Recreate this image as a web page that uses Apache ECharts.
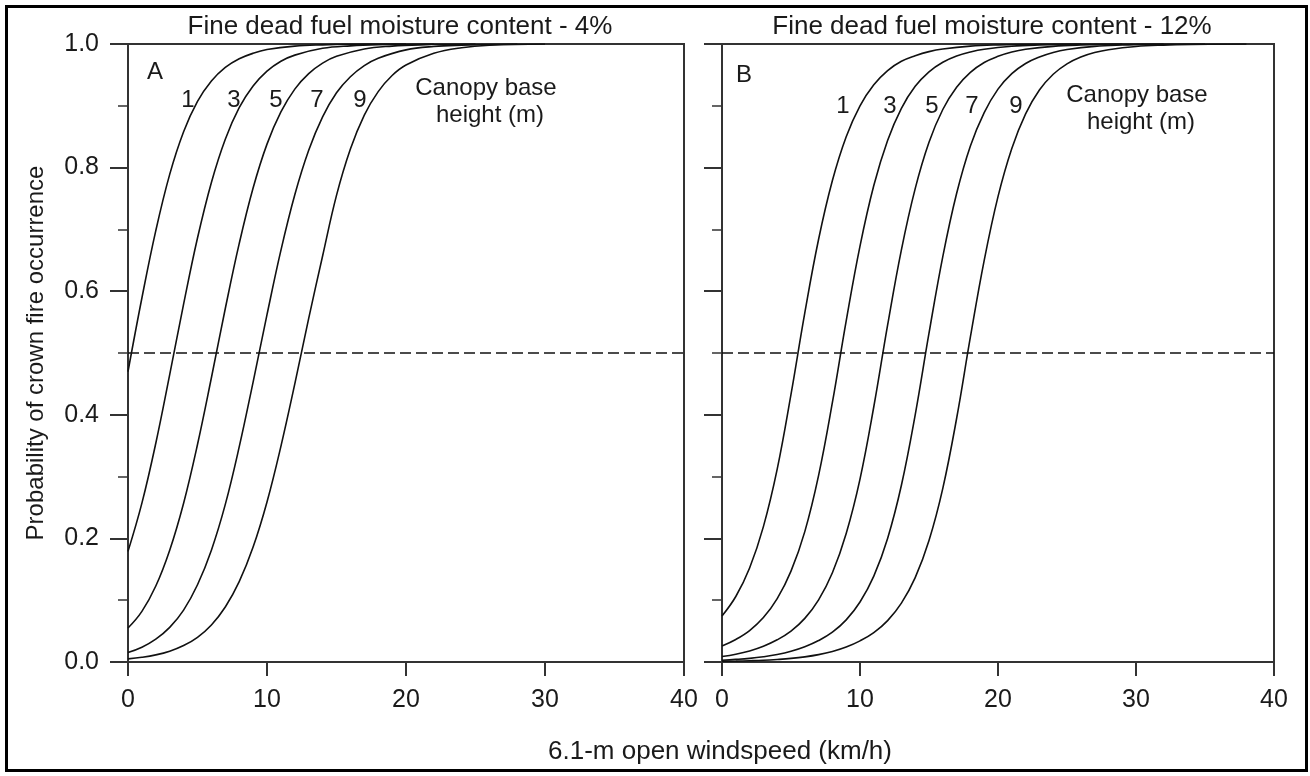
<!DOCTYPE html>
<html>
<head>
<meta charset="utf-8"/>
<title>Probability of crown fire occurrence</title>
<script src="https://cdn.jsdelivr.net/npm/echarts@6/dist/echarts.min.js"></script>
<style>
  html, body { margin: 0; padding: 0; background: #fff; }
  #main { width: 1310px; height: 776px; }
</style>
</head>
<body>
<div id="main"></div>
<script>
// ---- data: [windspeed km/h, probability] ----
// panel A, fine dead fuel moisture 4%
var a1 = [[0,0.47],[1,0.589],[2,0.698],[3,0.789],[4,0.858],[5,0.907],[6,0.94],[7,0.962],[8,0.976],[9,0.985],[10,0.991],[12,0.9965],[14,0.9986],[16,0.9995],[20,1]];
var a3 = [[0,0.179],[1,0.257],[2,0.354],[3,0.465],[4,0.579],[5,0.686],[6,0.776],[7,0.846],[8,0.897],[9,0.932],[10,0.956],[11,0.972],[12,0.982],[14,0.993],[16,0.997],[18,0.9988],[22,1]];
var a5 = [[0,0.055],[1,0.082],[2,0.123],[3,0.181],[4,0.257],[5,0.352],[6,0.46],[7,0.572],[8,0.677],[9,0.767],[10,0.838],[11,0.89],[12,0.927],[13,0.952],[14,0.969],[15,0.98],[17,0.992],[19,0.9966],[21,0.9986],[25,1]];
var a7 = [[0,0.0155],[1,0.024],[2,0.037],[3,0.056],[4,0.084],[5,0.125],[6,0.181],[7,0.255],[8,0.348],[9,0.453],[10,0.562],[11,0.666],[12,0.756],[13,0.828],[14,0.882],[15,0.921],[16,0.947],[17,0.965],[18,0.977],[20,0.9905],[22,0.996],[24,0.998],[28,1]];
var a9 = [[0,0.005],[1,0.0076],[2,0.0115],[3,0.0175],[4,0.0266],[5,0.04],[6,0.06],[7,0.089],[8,0.13],[9,0.186],[10,0.259],[11,0.349],[12,0.45],[13,0.556],[14,0.657],[15,0.755],[16,0.83],[17,0.885],[18,0.923],[19,0.949],[20,0.966],[22,0.985],[24,0.994],[26,0.998],[30,1]];
// panel B, fine dead fuel moisture 12%
var b1 = [[0,0.0745],[1,0.106],[2,0.152],[3,0.219],[4,0.312],[5,0.433],[6,0.565],[7,0.684],[8,0.779],[9,0.85],[10,0.9],[11,0.934],[12,0.957],[13,0.972],[14,0.981],[15,0.9877],[16,0.9919],[18,0.9965],[20,0.9985],[22,0.9993],[26,1]];
var b3 = [[0,0.0259],[1,0.0365],[2,0.0509],[3,0.0719],[4,0.1025],[5,0.147],[6,0.211],[7,0.302],[8,0.42],[9,0.552],[10,0.673],[11,0.771],[12,0.844],[13,0.896],[14,0.9315],[15,0.955],[16,0.9705],[17,0.9806],[18,0.9872],[19,0.9916],[21,0.9963],[23,0.9984],[25,0.9993],[29,1]];
var b5 = [[0,0.0088],[1,0.0126],[2,0.0179],[3,0.0255],[4,0.0359],[5,0.05],[6,0.0706],[7,0.1006],[8,0.1444],[9,0.208],[10,0.296],[11,0.413],[12,0.545],[13,0.667],[14,0.766],[15,0.841],[16,0.894],[17,0.93],[18,0.954],[19,0.97],[20,0.98],[21,0.987],[22,0.9914],[24,0.9962],[26,0.9984],[28,0.9993],[32,1]];
var b7 = [[0,0.0029],[1,0.0042],[2,0.0059],[3,0.0085],[4,0.0121],[5,0.0173],[6,0.0246],[7,0.0347],[8,0.0483],[9,0.0682],[10,0.0971],[11,0.139],[12,0.2],[13,0.286],[14,0.4],[15,0.532],[16,0.656],[17,0.758],[18,0.835],[19,0.889],[20,0.927],[21,0.952],[22,0.9685],[23,0.979],[24,0.9864],[25,0.991],[27,0.9961],[29,0.9983],[31,0.9993],[35,1]];
var b9 = [[0,0.00097],[1,0.0014],[2,0.002],[3,0.0028],[4,0.0041],[5,0.0058],[6,0.0083],[7,0.0119],[8,0.017],[9,0.0242],[10,0.0342],[11,0.0475],[12,0.067],[13,0.0953],[14,0.1366],[15,0.1966],[16,0.281],[17,0.394],[18,0.526],[19,0.65],[20,0.753],[21,0.831],[22,0.887],[23,0.9255],[24,0.951],[25,0.9679],[26,0.9789],[27,0.9861],[28,0.9908],[30,0.996],[32,0.9982],[34,0.9992],[38,1]];

var cbhLabels = ['1', '3', '5', '7', '9'];
var threshold = 0.5;

var font = '"Liberation Sans", Arial, Helvetica, sans-serif';
var axisColor = '#333';
var inkColor = '#1a1a1a';

var myChart = echarts.init(document.getElementById('main'));

function xAxisFor(grid) {
    return {
        type: 'value', gridIndex: grid, min: 0, max: 40, interval: 10,
        axisLine: { show: true, onZero: false, lineStyle: { color: axisColor, width: 2 } },
        axisTick: { show: true, length: 14, lineStyle: { color: axisColor, width: 2 } },
        axisLabel: { color: inkColor, fontSize: 25, fontFamily: font, margin: 26 },
        splitLine: { show: false }
    };
}
function yAxisFor(grid, labels) {
    return {
        type: 'value', gridIndex: grid, min: 0, max: 1, interval: 0.2,
        axisLine: { show: true, onZero: false, lineStyle: { color: axisColor, width: 2 } },
        axisTick: { show: true, length: 18, lineStyle: { color: axisColor, width: 2 } },
        axisLabel: {
            show: labels, color: inkColor, fontSize: 25, fontFamily: font, margin: 29,
            formatter: function (v) { return v.toFixed(1); }
        },
        splitLine: { show: false }
    };
}
// minor ticks pointing into the plot
function minorAxisFor(grid) {
    return {
        type: 'value', gridIndex: grid, min: 0, max: 1,
        axisLine: { show: false },
        axisTick: { show: true, inside: true, length: 10, customValues: [0.1, 0.3, 0.5, 0.7, 0.9],
            lineStyle: { color: axisColor, width: 1.5 } },
        axisLabel: { show: false },
        splitLine: { show: false }
    };
}

function curve(data, xi, yi) {
    return {
        type: 'line', data: data, xAxisIndex: xi, yAxisIndex: yi,
        showSymbol: false, smooth: 0.4, silent: true, clip: true,
        lineStyle: { color: '#111', width: 1.6 }
    };
}
function dashed(xi, yi) {
    return {
        type: 'line', data: [], xAxisIndex: xi, yAxisIndex: yi,
        markLine: {
            silent: true, symbol: 'none', label: { show: false },
            lineStyle: { color: '#111', width: 1.5, type: [11, 5] },
            data: [{ yAxis: threshold }]
        }
    };
}

function txt(text, x, y, size, extra) {
    var el = {
        type: 'text', x: x, y: y, z: 10,
        style: { text: text, fontSize: size, fontFamily: font, fill: inkColor, align: 'center', verticalAlign: 'middle' }
    };
    for (var k in extra) el[k] = extra[k];
    return el;
}

var graphics = [
    { type: 'rect', z: 0, shape: { x: 6.5, y: 6.5, width: 1300, height: 764 },
      style: { fill: 'none', stroke: '#000', lineWidth: 3 } },
    txt('Fine dead fuel moisture content - 4%', 400, 27, 26),
    txt('Fine dead fuel moisture content - 12%', 992, 27, 26),
    txt('Probability of crown fire occurrence', 36, 353, 24, { rotation: Math.PI / 2 }),
    txt('6.1-m open windspeed (km/h)', 720, 752, 26),
    txt('A', 155, 72, 24),
    txt('B', 744, 75, 24),
    txt('Canopy base', 486, 88, 24),
    txt('height (m)', 490, 115, 24),
    txt('Canopy base', 1137, 95, 24),
    txt('height (m)', 1141, 122, 24)
];
var labA = [188, 234, 276, 317, 360];
var labB = [843, 890, 932, 972, 1016];
cbhLabels.forEach(function (s, i) {
    graphics.push(txt(s, labA[i], 100, 24));
    graphics.push(txt(s, labB[i], 106, 24));
});

var option = {
    animation: false,
    backgroundColor: '#fff',
    grid: [
        { left: 128, top: 44, width: 556, height: 618, show: true, borderColor: axisColor, borderWidth: 2 },
        { left: 722, top: 44, width: 552, height: 618, show: true, borderColor: axisColor, borderWidth: 2 }
    ],
    xAxis: [xAxisFor(0), xAxisFor(1)],
    yAxis: [yAxisFor(0, true), minorAxisFor(0), yAxisFor(1, false), minorAxisFor(1)],
    series: [
        curve(a1, 0, 0), curve(a3, 0, 0), curve(a5, 0, 0), curve(a7, 0, 0), curve(a9, 0, 0),
        dashed(0, 0),
        curve(b1, 1, 2), curve(b3, 1, 2), curve(b5, 1, 2), curve(b7, 1, 2), curve(b9, 1, 2),
        dashed(1, 2)
    ],
    graphic: graphics
};
myChart.setOption(option);
</script>
</body>
</html>
